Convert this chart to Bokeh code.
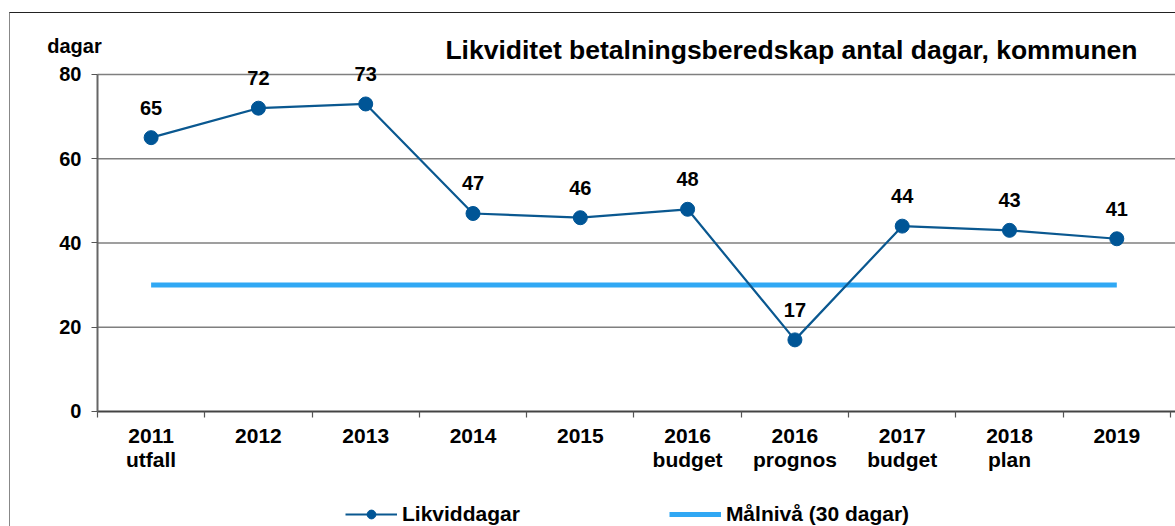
from bokeh.plotting import figure
from bokeh.models import FixedTicker, Legend, LegendItem, Label, ColumnDataSource, Range1d
from bokeh.layouts import column
from bokeh.core.properties import value
from bokeh.embed import file_html
from bokeh.resources import INLINE

categories = ["2011\nutfall", "2012", "2013", "2014", "2015", "2016\nbudget",
              "2016\nprognos", "2017\nbudget", "2018\nplan", "2019"]
likviddagar = [65, 72, 73, 47, 46, 48, 17, 44, 43, 41]
malniva = [30] * len(categories)
y_ticks = [0, 20, 40, 60, 80]
title_text = "Likviditet betalningsberedskap antal dagar, kommunen"
unit_text = "dagar"

FONT = "Liberation Sans"
xs = list(range(len(categories)))
src = ColumnDataSource(dict(x=xs, y=likviddagar, lbl=[str(v) for v in likviddagar], m=malniva))

X0, X1 = -0.975, 9.547          # extra room left for the unit label
Y0, Y1 = -2.85, 90.44           # room below 0 for the "0" label, on top for the title

p = figure(width=1165, height=483, output_backend="svg", toolbar_location=None,
           x_range=Range1d(X0, X1), y_range=Range1d(Y0, Y1),
           min_border_left=36, min_border_top=17, min_border_bottom=73, min_border_right=0)
p.outline_line_color = None
p.xgrid.grid_line_color = None
p.ygrid.grid_line_color = None

# horizontal grid lines (the one at 0 is the dark category axis line)
grid_src = ColumnDataSource(dict(
    y=y_ticks,
    x0=[-0.5] * len(y_ticks),
    x1=[X1] * len(y_ticks),
    c=["#444444" if t == 0 else "#7f7f7f" for t in y_ticks],
    w=[2 if t == 0 else 1.4 for t in y_ticks]))
p.segment(x0="x0", x1="x1", y0="y", y1="y", source=grid_src, line_color="c", line_width="w")

# y axis at x = -0.5
p.yaxis.fixed_location = -0.5
p.yaxis.bounds = (0, 80)
p.yaxis.ticker = FixedTicker(ticks=y_ticks)
p.yaxis.axis_line_color = "#666666"
p.yaxis.axis_line_width = 2
p.yaxis.major_tick_line_color = "#555555"
p.yaxis.major_tick_out = 6
p.yaxis.major_tick_in = 0
p.yaxis.minor_tick_line_color = None
p.yaxis.major_label_text_font = FONT
p.yaxis.major_label_text_font_style = "bold"
p.yaxis.major_label_text_font_size = "20px"
p.yaxis.major_label_text_color = "black"
p.yaxis.major_label_standoff = 10

# x axis: labels at centres, ticks at category boundaries (reaching down from y = 0)
bounds = [i - 0.5 for i in range(len(categories) + 1)]
p.xaxis.bounds = (-0.5, X1)
p.xaxis.ticker = FixedTicker(ticks=xs, minor_ticks=bounds)
p.xaxis.major_label_overrides = {i: c for i, c in enumerate(categories)}
p.xaxis.axis_line_color = None
p.xaxis.major_tick_line_color = None
p.xaxis.major_tick_out = 0
p.xaxis.major_tick_in = 0
p.xaxis.minor_tick_line_color = "#555555"
p.xaxis.minor_tick_line_width = 1.2
p.xaxis.minor_tick_in = 12
p.xaxis.minor_tick_out = -6
p.xaxis.major_label_text_font = FONT
p.xaxis.major_label_text_font_style = "bold"
p.xaxis.major_label_text_font_size = "21px"
p.xaxis.major_label_text_color = "black"
p.xaxis.major_label_standoff = 0
p.xaxis.major_label_text_line_height = 1.05

# series
p.line(xs, malniva, line_color="#30a8f4", line_width=5)
p.line("x", "y", source=src, line_color="#0a5890", line_width=2.2)
p.scatter("x", "y", source=src, size=14, fill_color="#005596", line_color="#005596")
p.text("x", "y", text="lbl", source=src, y_offset=-30, text_align="center",
       text_baseline="middle", text_font=value(FONT), text_font_style="bold",
       text_font_size="20px", text_color="black")

p.add_layout(Label(x=-0.714, y=86.65, text=unit_text, text_font=FONT, text_font_style="bold",
                   text_font_size="20px", text_align="center", text_baseline="middle",
                   text_color="black"))
p.add_layout(Label(x=5.968, y=85.7, text=title_text, text_font=FONT, text_font_style="bold",
                   text_font_size="26.5px", text_align="center", text_baseline="middle",
                   text_color="black"))

# legend strip (same series, drawn outside its visible range so only the legend shows)
lf = figure(width=1165, height=30, output_backend="svg", toolbar_location=None,
            x_range=Range1d(X0, X1), y_range=Range1d(-200, -100),
            x_axis_type=None, y_axis_type=None,
            min_border_left=0, min_border_right=0, min_border_top=0, min_border_bottom=0)
lf.outline_line_color = None
lf.xgrid.grid_line_color = None
lf.ygrid.grid_line_color = None
g_target = lf.line(xs, malniva, line_color="#30a8f4", line_width=5)
g_line = lf.line(xs, likviddagar, line_color="#0a5890", line_width=2.2)
g_pts = lf.scatter(xs, likviddagar, size=14, fill_color="#005596", line_color="#005596")

legend = Legend(items=[LegendItem(label="Likviddagar", renderers=[g_line, g_pts]),
                       LegendItem(label="Målnivå (30 dagar)", renderers=[g_target])],
                orientation="horizontal", location=(299, 0),
                glyph_width=52, glyph_height=22, label_standoff=5, spacing=149,
                padding=0, margin=0, border_line_color=None, background_fill_alpha=0,
                label_text_font=FONT, label_text_font_style="bold", label_text_font_size="21px",
                label_text_color="black")
lf.add_layout(legend, "center")

layout = column(p, lf, margin=(12, 0, 0, 9),
                styles={"border-top": "1px solid #222222", "border-left": "1px solid #888888"})

open("out.html", "w").write(file_html(layout, INLINE))
